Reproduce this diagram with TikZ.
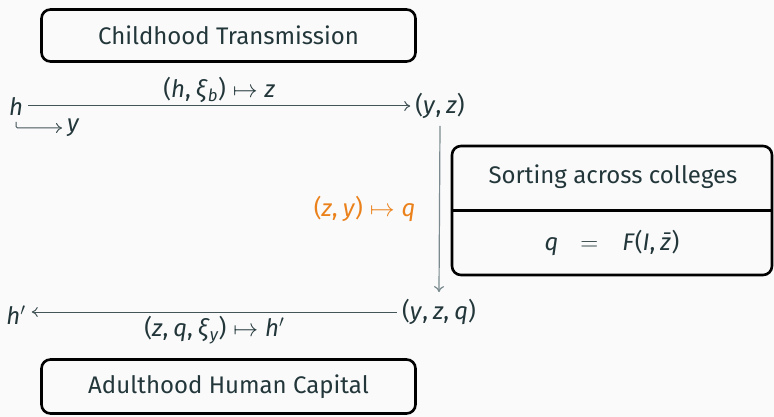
\documentclass[tikz,border=0pt]{standalone}
\usepackage{fontspec}
\setmainfont{Fira Sans}
\usetikzlibrary{arrows.meta,calc}
\definecolor{mDark}{HTML}{23373B}
\definecolor{mOrange}{HTML}{EB811B}
\definecolor{mBg}{HTML}{FAFAFA}
\definecolor{mGrey}{HTML}{7A8A8E}
\newcommand{\vi}[1]{\textit{#1\/}}
\newcommand{\cm}{,\hspace{5pt}}
\newcommand{\mt}{\hspace{7pt}$\mapsto$\hspace{7pt}}
\tikzset{
  boxstyle/.style={draw=black, line width=2.6pt, rounded corners=9pt, inner sep=0pt},
  lbl/.style={inner sep=7pt},
  arr/.style={draw=mDark!85, line width=1pt, -{To[length=6pt,width=10pt]}},
  varr/.style={draw=mGrey, line width=1.2pt, -{To[length=6pt,width=10pt]}}
}
\begin{document}
\begin{tikzpicture}[x=1pt,y=-1pt,font=\fontsize{24}{29}\selectfont,text=mDark]
\fill[mBg] (0,0) rectangle (774,417);
\useasboundingbox (0,0) rectangle (774,417);

\node[boxstyle, minimum width=374pt, minimum height=52pt] (child) at (228.5,35.5) {Childhood Transmission};
\node[boxstyle, minimum width=374pt, minimum height=54pt] (adult) at (228.5,386.5) {Adulthood Human Capital};

\node[boxstyle, minimum width=320pt, minimum height=129pt] (sort) at (612,210.5) {};
\draw[line width=2.6pt] (sort.west) -- (sort.east);
\node (sorttxt) at (613,177) {Sorting across colleges};
\node (sorteq) at (612,243) {\vi{q}\hspace{22pt}$=$\hspace{24pt}\vi{F}(\vi{I}\cm\vi{z\char"0304})};

\node[lbl, inner xsep=5pt] (h) at (16,107) {\vi{h}};
\node[lbl, inner xsep=5pt] (yz) at (440,106) {(\vi{y}\cm\vi{z})};
\node[lbl, inner xsep=5pt] (yzq) at (439,312) {(\vi{y}\cm\vi{z}\cm\vi{q})};
\node[lbl, inner xsep=6pt] (hp) at (16,315) {\vi{h}$'$};
\node[lbl, inner sep=0pt, anchor=west] (y2) at (67,128) {\vi{y}};
\coordinate (hs) at (16,128);

\draw[arr] (h.east |- yz.west) -- node[above=1pt, inner sep=2pt] {(\vi{h}\cm\vi{ξ}\textsubscript{\itshape b})\mt\vi{z}} (yz.west);
\draw[arr, rounded corners=1.5pt] ($(hs)+(0,-6)$) |- ($(y2.west)+(-5,0)$);
\draw[varr] (yz.south) -- node[left=20pt, text=mOrange] {(\vi{z}\cm\vi{y})\mt\vi{q}} (yzq.north);
\draw[arr] (yzq.west) -- node[below=2pt, inner sep=2pt] {(\vi{z}\cm\vi{q}\cm\vi{ξ}\textsubscript{\itshape y})\mt\vi{h}$'$} (hp.east |- yzq.west);
\end{tikzpicture}
\end{document}
